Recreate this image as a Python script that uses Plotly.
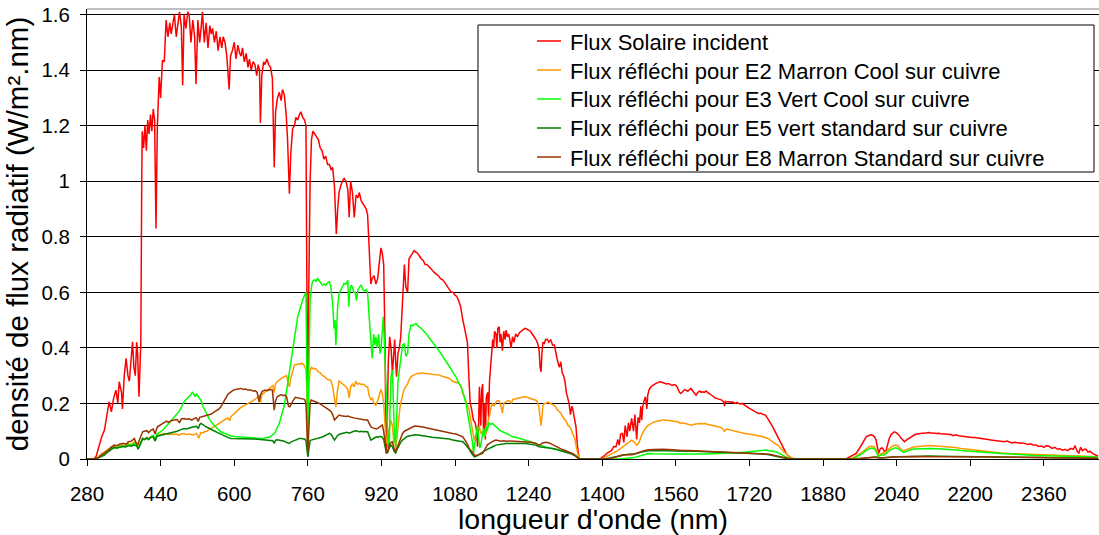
import plotly.graph_objects as go

# ---------------- data ----------------
red_wl = [280,295,300,306,312,318,322,328,333,338,343,347,350,355,357,361,365,369,372,376,379,382,385,388,390,393,395,397,399,
400,403,406,409,412,415,418,421,424,427,430,433,437,440,444,448,452,456,460,463,466,470,474,478,481,485,488,491,495,499,502,506,510,514,517,521,525,528,531,535,539,543,547,550,553,557,561,565,569,573,576,580,584,589,592,596,600,604,608,612,615,618,622,626,630,633,637,641,645,649,652,655,657,660,664,667,671,675,679,683,687,690,694,698,702,705,709,713,716,720,723,727,731,734,738,742,745,749,753,756,758,760,762,765,768,771,775,779,783,787,791,795,799,803,807,811,814,818,822,825,828,831,835,839,843,847,850,853,857,861,865,869,872,876,880,884,887,890,893,895,897,900,904,908,912,915,919,922,925,928,930,932,935,938,941,944,947,949,951,953,956,959,962,966,970,973,977,980,984,988,991,995,999,1003,1007,1011,1015,1019,1024,1028,1032,1036,1040,1044,1048,1053,1058,1063,1068,1072,1076,1080,1084,1088,1092,1096,1100,1104,1107,1110,1113,1116,1120,1124,1127,1129,1131,1133,1136,1138,1140,1142,1144,1146,1148,1151,1153,1155,1158,1160,1162,1164,1166,1169,1171,1173,1176,1178,1180,1183,1186,1189,1191,1194,1197,1200,1202,1205,1208,1212,1216,1220,1224,1228,1232,1236,1240,1244,1248,1252,1256,1260,1263,1265,1267,1269,1271,1274,1277,1281,1284,1288,1292,1296,1299,1302,1305,1307,1310,1313,1316,1319,1322,1325,1328,1331,1334,1336,1339,1343,1346,1350,
1395,1400,1405,1410,1415,1420,1425,1430,1434,1437,1440,1444,1447,1450,1454,1457,1460,1464,1468,1471,1475,1478,1481,1484,1486,1488,1491,1494,1497,1499,1502,1506,1510,1514,1517,1521,1525,1528,1532,1536,1540,1544,1548,1552,1556,1560,1564,1568,1571,1575,1579,1582,1586,1590,1593,1597,1600,1604,1608,1612,1615,1618,1622,1626,1629,1633,1637,1641,1645,1648,1652,1656,1660,1664,1666,1668,1672,1676,1680,1684,1688,1692,1696,1700,1704,1708,1712,1716,1720,1725,1730,1735,1740,1745,1750,1755,1760,1764,1767,1771,1774,1778,1782,1786,1789,1793,1796,1800,1805,1810,1815,
1930,1937,1945,1952,1958,1963,1966,1970,1974,1977,1981,1985,1988,1992,1995,1998,2001,2004,2007,2010,2013,2017,2020,2024,2028,2031,2035,2039,2043,2046,2050,2054,2057,2061,2065,2068,2072,2076,2080,2085,2090,2095,2100,2105,2111,2116,2121,2126,2131,2136,2140,2146,2152,2158,2163,2169,2175,2181,2187,2192,2198,2204,2210,2216,2222,2227,2233,2239,2245,2251,2256,2262,2268,2274,2280,2285,2291,2297,2303,2309,2314,2320,2326,2331,2337,2343,2349,2355,2360,2366,2372,2378,2384,2390,2395,2401,2406,2412,2418,2424,2428,2432,2436,2440,2444,2448,2452,2456,2460,2466,2472,2478]
red_val = [0,0,0.01,0.044,0.08,0.104,0.15,0.206,0.17,0.22,0.248,0.2,0.278,0.24,0.18,0.3,0.362,0.3,0.28,0.38,0.422,0.33,0.3,0.42,0.38,0.224,0.35,0.42,1.0,
1.18,1.12,1.2,1.11,1.22,1.17,1.24,1.18,1.26,1.22,0.83,1.2,1.375,1.3,1.435,1.43,1.58,1.52,1.57,1.53,1.56,1.6,1.52,1.58,1.61,1.56,1.345,1.6,1.55,1.61,1.6,1.5,1.58,1.52,1.35,1.58,1.5,1.55,1.61,1.5,1.57,1.48,1.56,1.53,1.55,1.5,1.54,1.47,1.52,1.48,1.52,1.5,1.45,1.33,1.45,1.47,1.5,1.44,1.49,1.46,1.45,1.48,1.43,1.46,1.41,1.44,1.4,1.43,1.42,1.38,1.42,1.40,1.21,1.38,1.43,1.42,1.44,1.42,1.41,1.37,1.05,1.25,1.3,1.32,1.29,1.33,1.31,1.24,1.15,0.955,1.1,1.19,1.2,1.23,1.22,1.24,1.25,1.23,1.22,1.2,0.6,0.04,0.6,1.0,1.15,1.18,1.17,1.16,1.15,1.12,1.11,1.08,1.09,1.06,1.06,1.04,1.05,0.98,0.81,0.9,0.96,0.98,1.0,1.01,1.0,0.97,0.87,1.0,0.96,0.87,0.95,0.94,0.96,0.93,0.92,0.91,0.9,0.88,0.75,0.65,0.63,0.65,0.66,0.63,0.65,0.7,0.76,0.74,0.7,0.4,0.03,0.05,0.35,0.44,0.4,0.31,0.38,0.43,0.35,0.296,0.38,0.4,0.44,0.55,0.7,0.62,0.6,0.72,0.73,0.74,0.75,0.745,0.74,0.73,0.72,0.715,0.70,0.70,0.69,0.685,0.675,0.67,0.665,0.66,0.65,0.645,0.635,0.62,0.61,0.60,0.6,0.59,0.585,0.57,0.55,0.51,0.48,0.45,0.42,0.3,0.2,0.18,0.14,0.13,0.1,0.044,0.1,0.26,0.12,0.25,0.27,0.1,0.2,0.07,0.22,0.24,0.15,0.28,0.34,0.38,0.43,0.4,0.46,0.45,0.4,0.47,0.476,0.42,0.45,0.39,0.46,0.43,0.464,0.44,0.45,0.42,0.40,0.44,0.42,0.45,0.44,0.455,0.46,0.465,0.47,0.468,0.465,0.46,0.45,0.44,0.43,0.415,0.39,0.33,0.314,0.38,0.42,0.416,0.43,0.43,0.42,0.43,0.41,0.41,0.38,0.36,0.34,0.33,0.35,0.31,0.3,0.28,0.24,0.22,0.2,0.16,0.19,0.18,0.15,0.116,0.05,0.0,
0,0.005,0.012,0.02,0.026,0.03,0.045,0.044,0.07,0.05,0.09,0.092,0.06,0.12,0.08,0.13,0.1,0.146,0.1,0.16,0.07,0.15,0.13,0.19,0.14,0.188,0.21,0.224,0.18,0.23,0.25,0.26,0.265,0.27,0.272,0.275,0.278,0.277,0.275,0.274,0.27,0.272,0.268,0.265,0.268,0.266,0.255,0.24,0.236,0.245,0.25,0.248,0.244,0.25,0.254,0.245,0.238,0.23,0.24,0.245,0.24,0.242,0.24,0.245,0.24,0.236,0.23,0.226,0.22,0.218,0.215,0.214,0.212,0.206,0.19,0.208,0.205,0.207,0.204,0.206,0.2,0.203,0.2,0.198,0.2,0.195,0.19,0.186,0.182,0.178,0.172,0.168,0.164,0.165,0.16,0.158,0.145,0.135,0.128,0.115,0.105,0.092,0.08,0.065,0.056,0.04,0.03,0.02,0.01,0.004,0,
0,0.006,0.012,0.02,0.035,0.05,0.056,0.07,0.08,0.083,0.086,0.087,0.085,0.08,0.07,0.04,0.02,0.035,0.04,0.038,0.028,0.03,0.05,0.074,0.088,0.094,0.098,0.095,0.09,0.085,0.075,0.068,0.062,0.068,0.072,0.074,0.08,0.085,0.088,0.09,0.092,0.093,0.093,0.094,0.095,0.093,0.094,0.092,0.093,0.091,0.09,0.091,0.089,0.088,0.084,0.087,0.084,0.082,0.081,0.08,0.078,0.077,0.077,0.075,0.074,0.074,0.07,0.07,0.068,0.067,0.066,0.063,0.064,0.062,0.065,0.062,0.058,0.06,0.058,0.057,0.058,0.054,0.052,0.055,0.05,0.05,0.045,0.047,0.042,0.048,0.045,0.038,0.042,0.035,0.037,0.032,0.035,0.03,0.038,0.035,0.048,0.03,0.02,0.042,0.03,0.035,0.035,0.025,0.028,0.02,0.015,0.01]

orange_wl = [280,298,305,312,318,325,332,339,345,352,358,364,370,376,383,388,392,396,401,405,410,414,419,424,428,432,437,442,448,453,458,463,468,474,479,485,491,496,502,508,513,518,523,527,531,535,540,545,550,555,560,565,570,575,580,586,590,593,598,603,607,612,617,622,627,631,636,641,646,651,655,657,660,665,669,673,677,681,684,687,690,694,698,702,706,710,714,718,720,723,727,731,735,740,745,749,753,756,758,760,762,765,768,772,777,782,787,792,796,800,805,810,814,818,821,824,828,832,836,840,843,847,850,853,857,861,864,868,872,876,880,884,887,890,893,897,900,904,908,912,915,919,922,925,928,931,933,936,940,944,947,949,951,954,957,960,962,966,969,973,977,980,984,988,993,998,1002,1007,1012,1017,1024,1030,1035,1040,1046,1052,1058,1063,1068,1075,1082,1089,1094,1097,1101,1105,1109,1111,1114,1118,1122,1126,1129,1133,1137,1140,1144,1147,1150,1153,1156,1159,1162,1165,1169,1172,1176,1180,1183,1186,1190,1194,1198,1202,1206,1210,1214,1218,1222,1226,1230,1234,1238,1242,1246,1250,1254,1258,1262,1265,1267,1269,1271,1274,1278,1282,1286,1290,1294,1298,1302,1306,1310,1314,1318,1322,1326,1330,1334,1338,1341,1344,1347,1350,
1400,1408,1415,1422,1430,1437,1444,1450,1457,1464,1470,1475,1479,1484,1488,1492,1496,1501,1506,1511,1515,1520,1526,1532,1537,1543,1549,1555,1560,1565,1570,1575,1580,1586,1590,1594,1600,1606,1612,1618,1623,1630,1637,1644,1652,1660,1666,1670,1675,1680,1688,1695,1703,1710,1718,1726,1733,1739,1746,1753,1760,1767,1773,1778,1782,1787,1792,1796,1800,1806,1812,1818,
1940,1945,1952,1960,1966,1972,1977,1980,1985,1991,1995,1998,2001,2006,2010,2013,2018,2022,2028,2033,2039,2044,2048,2053,2058,2064,2070,2076,2082,2090,2100,2111,2120,2130,2142,2155,2167,2180,2190,2198,2210,2222,2235,2242,2255,2268,2285,2300,2315,2329,2350,2370,2390,2410,2430,2455,2478]
orange_val = [0,0,0.008,0.02,0.025,0.035,0.04,0.044,0.042,0.048,0.05,0.047,0.055,0.052,0.062,0.058,0.045,0.06,0.074,0.072,0.078,0.074,0.08,0.082,0.065,0.085,0.087,0.09,0.092,0.09,0.088,0.09,0.088,0.09,0.086,0.09,0.092,0.088,0.09,0.087,0.088,0.092,0.075,0.095,0.093,0.098,0.1,0.105,0.11,0.115,0.122,0.128,0.133,0.138,0.142,0.148,0.138,0.152,0.16,0.168,0.176,0.182,0.188,0.192,0.198,0.2,0.206,0.21,0.216,0.224,0.228,0.2,0.232,0.238,0.244,0.248,0.254,0.26,0.264,0.24,0.272,0.278,0.285,0.29,0.294,0.296,0.3,0.27,0.26,0.29,0.31,0.338,0.34,0.342,0.344,0.344,0.335,0.32,0.25,0.116,0.25,0.32,0.33,0.325,0.326,0.315,0.31,0.30,0.298,0.29,0.285,0.284,0.26,0.21,0.188,0.24,0.28,0.275,0.27,0.265,0.26,0.25,0.22,0.26,0.27,0.26,0.28,0.27,0.272,0.268,0.27,0.265,0.26,0.26,0.23,0.212,0.22,0.2,0.194,0.21,0.23,0.25,0.236,0.2,0.12,0.06,0.056,0.09,0.14,0.12,0.06,0.1,0.035,0.08,0.14,0.18,0.2,0.23,0.25,0.26,0.27,0.285,0.296,0.3,0.305,0.308,0.308,0.31,0.309,0.308,0.308,0.306,0.305,0.303,0.302,0.298,0.295,0.292,0.29,0.28,0.276,0.272,0.258,0.236,0.22,0.2,0.18,0.176,0.14,0.1,0.068,0.09,0.11,0.116,0.09,0.1,0.08,0.093,0.12,0.15,0.17,0.19,0.2,0.19,0.205,0.21,0.21,0.19,0.165,0.2,0.205,0.21,0.21,0.2,0.215,0.215,0.218,0.22,0.222,0.223,0.224,0.224,0.222,0.22,0.218,0.214,0.212,0.21,0.19,0.14,0.12,0.15,0.19,0.2,0.2,0.205,0.2,0.198,0.195,0.19,0.178,0.172,0.165,0.152,0.145,0.135,0.12,0.115,0.1,0.082,0.07,0.04,0.015,0,
0,0.008,0.015,0.02,0.026,0.035,0.044,0.05,0.06,0.068,0.06,0.05,0.056,0.08,0.095,0.105,0.115,0.122,0.128,0.132,0.134,0.136,0.138,0.14,0.14,0.138,0.137,0.136,0.135,0.134,0.128,0.13,0.128,0.126,0.124,0.122,0.125,0.127,0.128,0.127,0.128,0.124,0.122,0.12,0.116,0.112,0.1,0.108,0.106,0.104,0.1,0.096,0.094,0.092,0.09,0.088,0.087,0.086,0.082,0.078,0.074,0.066,0.058,0.053,0.05,0.04,0.03,0.024,0.02,0.01,0.004,0,
0,0.004,0.01,0.018,0.026,0.035,0.042,0.044,0.046,0.044,0.035,0.02,0.012,0.018,0.022,0.02,0.025,0.035,0.044,0.048,0.05,0.046,0.038,0.03,0.032,0.036,0.04,0.042,0.044,0.046,0.048,0.049,0.048,0.047,0.046,0.044,0.041,0.038,0.036,0.035,0.033,0.03,0.028,0.026,0.024,0.022,0.02,0.019,0.018,0.018,0.016,0.015,0.013,0.013,0.011,0.01,0.008]

lime_wl = [280,298,305,312,318,325,332,339,346,352,358,364,370,376,383,388,392,396,401,406,410,414,419,424,428,432,437,442,448,453,458,463,468,472,477,482,486,491,496,502,506,509,512,515,518,521,524,528,532,535,539,543,547,553,558,563,568,571,576,582,587,593,600,607,614,622,630,637,644,651,658,665,672,678,682,686,689,692,695,698,702,706,709,713,717,720,724,727,731,734,738,742,745,749,753,756,758,760,762,765,768,770,774,778,781,785,788,792,796,799,803,807,810,814,817,819,821,823,825,828,832,835,839,843,847,849,851,854,857,860,863,866,869,872,876,880,884,887,890,893,895,897,900,903,906,908,911,914,917,919,921,924,927,930,933,935,937,939,941,944,946,948,951,953,956,959,962,966,970,973,977,980,984,988,992,995,999,1003,1008,1012,1017,1022,1028,1033,1039,1045,1050,1055,1060,1066,1071,1076,1082,1086,1089,1093,1097,1100,1104,1108,1111,1115,1118,1120,1123,1126,1129,1131,1134,1136,1139,1142,1145,1147,1150,1154,1158,1162,1166,1170,1174,1176,1182,1188,1194,1200,1205,1212,1220,1227,1234,1242,1250,1256,1263,1270,1278,1285,1292,1300,1307,1314,1321,1328,1336,1343,1347,1350,
1440,1455,1470,1480,1488,1495,1501,1510,1525,1540,1553,1570,1590,1610,1626,1645,1665,1685,1698,1710,1720,1730,1740,1748,1756,1762,1770,1778,1785,1790,1796,1802,1810,1816,
1945,1952,1960,1966,1972,1977,1982,1988,1992,1996,2000,2004,2008,2012,2018,2024,2030,2036,2041,2046,2050,2055,2060,2066,2073,2080,2090,2100,2112,2125,2140,2155,2170,2185,2200,2215,2230,2245,2260,2275,2290,2305,2320,2340,2360,2380,2400,2420,2440,2460,2478]
lime_val = [0,0,0.006,0.014,0.02,0.03,0.036,0.04,0.04,0.045,0.047,0.046,0.052,0.05,0.056,0.052,0.04,0.058,0.07,0.07,0.075,0.07,0.08,0.085,0.07,0.09,0.095,0.1,0.11,0.12,0.13,0.14,0.148,0.155,0.164,0.175,0.19,0.206,0.215,0.224,0.232,0.242,0.235,0.225,0.235,0.228,0.224,0.21,0.19,0.18,0.17,0.155,0.14,0.128,0.118,0.11,0.102,0.098,0.094,0.09,0.086,0.083,0.081,0.08,0.078,0.077,0.076,0.075,0.075,0.074,0.074,0.075,0.077,0.08,0.085,0.09,0.095,0.108,0.12,0.128,0.152,0.18,0.194,0.236,0.28,0.31,0.35,0.38,0.42,0.46,0.512,0.535,0.555,0.572,0.59,0.60,0.3,0.008,0.3,0.57,0.62,0.638,0.645,0.64,0.65,0.64,0.635,0.626,0.63,0.625,0.635,0.638,0.62,0.56,0.47,0.5,0.41,0.5,0.55,0.596,0.61,0.62,0.632,0.63,0.643,0.548,0.6,0.625,0.62,0.6,0.6,0.57,0.61,0.618,0.626,0.61,0.605,0.61,0.60,0.52,0.476,0.4,0.362,0.45,0.41,0.44,0.4,0.45,0.38,0.392,0.45,0.512,0.4,0.236,0.12,0.06,0.044,0.2,0.3,0.32,0.2,0.1,0.044,0.15,0.28,0.32,0.36,0.41,0.416,0.37,0.38,0.45,0.482,0.48,0.485,0.488,0.48,0.475,0.468,0.46,0.452,0.44,0.428,0.416,0.404,0.39,0.378,0.366,0.356,0.34,0.325,0.31,0.296,0.28,0.27,0.26,0.24,0.22,0.2,0.16,0.13,0.104,0.06,0.02,0.06,0.09,0.12,0.08,0.04,0.05,0.09,0.11,0.08,0.12,0.1,0.13,0.125,0.128,0.12,0.115,0.11,0.104,0.1,0.095,0.09,0.085,0.08,0.078,0.074,0.072,0.068,0.064,0.06,0.056,0.05,0.046,0.043,0.04,0.038,0.035,0.032,0.028,0.026,0.022,0.018,0.012,0.005,0,
0,0.002,0.005,0.01,0.014,0.018,0.02,0.019,0.018,0.018,0.018,0.018,0.017,0.018,0.018,0.019,0.02,0.021,0.022,0.024,0.026,0.028,0.03,0.032,0.032,0.03,0.028,0.026,0.02,0.015,0.01,0.005,0.002,0,
0,0.006,0.012,0.02,0.028,0.034,0.038,0.039,0.036,0.025,0.01,0.012,0.016,0.014,0.02,0.03,0.036,0.04,0.04,0.035,0.028,0.024,0.027,0.031,0.034,0.036,0.037,0.038,0.038,0.037,0.036,0.034,0.032,0.03,0.028,0.026,0.023,0.021,0.02,0.019,0.018,0.016,0.015,0.013,0.012,0.011,0.01,0.009,0.009,0.008,0.007]

dkgreen_wl = [280,298,305,312,318,325,332,339,345,352,358,364,370,376,383,388,391,396,401,405,410,414,419,424,428,432,437,442,448,453,458,463,470,476,481,486,491,496,502,508,513,518,522,525,528,532,535,539,543,548,553,558,563,568,571,576,582,587,593,600,607,614,622,630,637,644,651,658,665,672,680,684,687,690,694,698,704,709,713,717,720,724,728,733,737,741,745,749,753,756,758,760,762,765,767,772,778,785,790,795,800,804,807,811,814,818,821,825,830,835,840,845,850,855,860,864,868,872,876,880,884,887,890,893,897,901,905,909,913,917,921,925,928,931,934,937,941,944,947,951,954,958,962,966,970,975,980,984,988,993,999,1006,1013,1020,1024,1030,1037,1044,1052,1060,1068,1075,1082,1089,1094,1097,1101,1105,1108,1111,1114,1118,1122,1126,1130,1134,1140,1147,1153,1158,1164,1169,1175,1180,1186,1191,1200,1210,1220,1234,1245,1255,1263,1270,1278,1285,1292,1300,1310,1320,1328,1335,1342,1347,1350,
1405,1420,1435,1450,1465,1475,1485,1492,1500,1515,1530,1545,1560,1580,1600,1620,1640,1660,1680,1700,1720,1740,1760,1775,1785,1795,1805,1812,
1950,1965,1980,1995,2005,2020,2040,2060,2080,2095,2110,2130,2160,2200,2250,2300,2350,2400,2440,2478]
dkgreen_val = [0,0,0.004,0.01,0.014,0.025,0.035,0.042,0.04,0.044,0.045,0.043,0.048,0.046,0.05,0.048,0.035,0.052,0.074,0.07,0.076,0.07,0.078,0.08,0.065,0.082,0.084,0.086,0.088,0.09,0.092,0.094,0.098,0.1,0.104,0.106,0.11,0.108,0.112,0.114,0.116,0.118,0.11,0.124,0.128,0.122,0.12,0.116,0.112,0.108,0.104,0.1,0.096,0.092,0.088,0.084,0.08,0.077,0.074,0.074,0.073,0.074,0.074,0.073,0.072,0.072,0.071,0.07,0.07,0.069,0.068,0.066,0.056,0.068,0.069,0.068,0.066,0.064,0.06,0.058,0.056,0.062,0.066,0.068,0.07,0.074,0.074,0.073,0.072,0.066,0.03,0.008,0.03,0.066,0.068,0.07,0.072,0.074,0.078,0.082,0.086,0.09,0.092,0.088,0.08,0.068,0.075,0.085,0.09,0.092,0.094,0.096,0.093,0.098,0.1,0.102,0.1,0.098,0.1,0.098,0.099,0.098,0.098,0.085,0.068,0.072,0.075,0.08,0.078,0.082,0.08,0.07,0.045,0.02,0.025,0.04,0.05,0.044,0.03,0.02,0.035,0.05,0.06,0.068,0.075,0.08,0.083,0.085,0.086,0.087,0.086,0.085,0.083,0.081,0.08,0.078,0.077,0.076,0.075,0.074,0.072,0.068,0.067,0.065,0.063,0.062,0.056,0.048,0.04,0.035,0.025,0.015,0.008,0.01,0.015,0.02,0.025,0.032,0.038,0.042,0.046,0.05,0.052,0.054,0.055,0.056,0.056,0.057,0.056,0.056,0.053,0.05,0.044,0.043,0.042,0.04,0.038,0.035,0.03,0.026,0.023,0.017,0.01,0.004,0,
0,0.004,0.01,0.015,0.018,0.02,0.025,0.028,0.03,0.031,0.03,0.029,0.029,0.028,0.028,0.027,0.026,0.025,0.024,0.023,0.021,0.019,0.016,0.012,0.008,0.004,0.001,0,
0,0.003,0.006,0.007,0.004,0.006,0.008,0.008,0.01,0.012,0.011,0.01,0.009,0.008,0.007,0.006,0.005,0.004,0.004,0.003]

brown_wl = [280,298,305,312,318,325,332,339,345,352,358,361,365,370,376,380,383,386,390,393,397,401,405,410,414,419,424,428,433,437,442,448,453,458,463,470,476,481,485,491,496,502,508,513,518,522,525,530,535,540,545,550,557,562,567,571,575,579,582,586,590,593,598,603,608,615,620,625,630,636,641,646,650,654,657,661,667,672,677,683,687,690,694,698,702,706,710,714,718,721,724,728,733,738,743,749,753,756,758,760,762,765,767,772,778,785,790,795,800,804,807,811,814,818,821,825,828,833,838,843,847,850,855,860,865,870,875,880,885,890,893,897,901,905,909,912,916,919,922,925,928,931,934,937,941,944,947,951,954,958,962,966,970,975,981,986,991,995,1001,1007,1013,1019,1024,1031,1038,1046,1053,1060,1068,1075,1082,1089,1094,1097,1101,1105,1108,1111,1115,1119,1122,1126,1130,1135,1140,1145,1150,1155,1160,1165,1169,1175,1180,1186,1191,1200,1210,1220,1227,1235,1245,1256,1262,1266,1270,1278,1285,1292,1299,1306,1314,1321,1328,1335,1342,1347,1350,
1415,1430,1444,1458,1465,1473,1480,1485,1491,1500,1510,1517,1530,1545,1560,1575,1590,1604,1620,1640,1662,1680,1700,1720,1740,1764,1775,1785,1793,1802,1810,
1950,1970,1990,2005,2020,2040,2070,2100,2150,2200,2250,2300,2350,2400,2478]
brown_val = [0,0,0.006,0.014,0.02,0.03,0.042,0.05,0.048,0.054,0.056,0.056,0.052,0.062,0.064,0.07,0.074,0.06,0.05,0.065,0.08,0.098,0.1,0.102,0.095,0.104,0.108,0.09,0.116,0.12,0.126,0.134,0.136,0.132,0.138,0.14,0.142,0.13,0.144,0.146,0.143,0.145,0.14,0.146,0.148,0.135,0.15,0.152,0.155,0.158,0.16,0.162,0.17,0.175,0.18,0.188,0.2,0.21,0.224,0.232,0.238,0.242,0.248,0.25,0.252,0.254,0.25,0.252,0.248,0.248,0.245,0.246,0.24,0.206,0.23,0.244,0.248,0.246,0.25,0.248,0.176,0.21,0.225,0.23,0.232,0.228,0.23,0.224,0.19,0.188,0.2,0.21,0.222,0.22,0.219,0.218,0.215,0.2,0.1,0.02,0.1,0.2,0.212,0.21,0.205,0.2,0.195,0.19,0.185,0.18,0.176,0.17,0.16,0.14,0.145,0.155,0.158,0.156,0.155,0.153,0.155,0.152,0.15,0.148,0.146,0.145,0.143,0.142,0.14,0.14,0.128,0.116,0.112,0.11,0.108,0.11,0.115,0.12,0.122,0.1,0.06,0.02,0.03,0.05,0.06,0.062,0.04,0.025,0.04,0.06,0.08,0.092,0.1,0.105,0.11,0.115,0.118,0.119,0.118,0.116,0.114,0.112,0.11,0.108,0.106,0.102,0.1,0.098,0.095,0.092,0.09,0.086,0.084,0.08,0.07,0.06,0.05,0.038,0.028,0.02,0.015,0.012,0.014,0.018,0.02,0.035,0.05,0.056,0.062,0.066,0.068,0.066,0.064,0.066,0.064,0.065,0.064,0.064,0.064,0.062,0.06,0.056,0.05,0.052,0.058,0.06,0.058,0.052,0.045,0.04,0.034,0.03,0.026,0.02,0.012,0.004,0,
0,0.006,0.014,0.016,0.015,0.02,0.024,0.028,0.03,0.033,0.034,0.035,0.035,0.034,0.032,0.031,0.031,0.03,0.029,0.028,0.026,0.025,0.024,0.022,0.02,0.017,0.013,0.009,0.006,0.002,0,
0,0.004,0.006,0.004,0.006,0.008,0.009,0.009,0.008,0.008,0.007,0.006,0.005,0.004,0.003]

series_names = [
    "Flux Solaire incident",
    "Flux réfléchi pour E2 Marron Cool sur cuivre",
    "Flux réfléchi pour E3 Vert Cool sur cuivre",
    "Flux réfléchi pour E5 vert standard sur cuivre",
    "Flux réfléchi pour E8 Marron Standard sur cuivre",
]
x_ticks = [280, 440, 600, 760, 920, 1080, 1240, 1400, 1560, 1720, 1880, 2040, 2200, 2360]
y_ticks = [0, 0.2, 0.4, 0.6, 0.8, 1.0, 1.2, 1.4, 1.6]

# ---------------- figure ----------------
colors = ["#FF0000", "#FF9900", "#00FF00", "#008000", "#993300"]
data = [(red_wl, red_val), (orange_wl, orange_val), (lime_wl, lime_val),
        (dkgreen_wl, dkgreen_val), (brown_wl, brown_val)]

FONT = "Liberation Sans, Arial, sans-serif"
W, H = 1099, 535
ML, MR, MT, MB = 87, 0, 9, 76
PW, PH = W - ML - MR, H - MT - MB

def px_x(px):
    return (px - ML) / PW

def px_y(py):
    return 1 - (py - MT) / PH

fig = go.Figure()
for (xs, ys), name, col in zip(data, series_names, colors):
    fig.add_trace(go.Scatter(x=xs, y=ys, mode="lines", name=name,
                             line=dict(color=col, width=1.5), showlegend=False))

fig.update_layout(
    width=W, height=H,
    margin=dict(l=ML, r=MR, t=MT, b=MB),
    paper_bgcolor="white", plot_bgcolor="white",
    font=dict(family=FONT, color="black", size=20),
    showlegend=False,
    xaxis=dict(range=[280, 2480], tickmode="array", tickvals=x_ticks,
               ticktext=[str(v) for v in x_ticks], automargin=False,
               showgrid=False, zeroline=False, showline=True,
               linecolor="black", linewidth=1, ticks="outside",
               ticklen=6, tickcolor="black", ticklabelstandoff=10,
               tickfont=dict(family=FONT, size=20.5),
               title=dict(text="longueur d'onde (nm)",
                          font=dict(family=FONT, size=28.5), standoff=14)),
    yaxis=dict(range=[0, 1.62], tickmode="array", tickvals=y_ticks,
               ticktext=["0", "0.2", "0.4", "0.6", "0.8", "1", "1.2", "1.4", "1.6"],
               showgrid=True, gridcolor="black", gridwidth=1, automargin=False,
               zeroline=False, showline=True, linecolor="black", linewidth=1,
               ticks="outside", ticklen=6, tickcolor="black", ticklabelstandoff=6,
               tickfont=dict(family=FONT, size=20.5),
               title=dict(text="densité de flux radiatif (W/m².nm)",
                          font=dict(family=FONT, size=29.5), standoff=4)),
)
# top border of plot area
fig.add_shape(type="line", xref="paper", yref="paper", x0=0, x1=1, y0=1, y1=1,
              line=dict(color="#808080", width=1))
# legend frame
fig.add_shape(type="rect", xref="paper", yref="paper",
              x0=px_x(478), x1=px_x(1094), y0=px_y(172), y1=px_y(25),
              line=dict(color="black", width=1), fillcolor="white", layer="above")
# legend entries
row_y = [41, 70, 99, 128, 157]
for name, col, ry in zip(series_names, colors, row_y):
    fig.add_shape(type="line", xref="paper", yref="paper", layer="above",
                  x0=px_x(537), x1=px_x(561), y0=px_y(ry), y1=px_y(ry),
                  line=dict(color=col, width=1.5))
    fig.add_annotation(xref="paper", yref="paper", x=px_x(568), y=px_y(ry + 1),
                       xanchor="left", yanchor="middle", showarrow=False,
                       text=name, font=dict(family=FONT, size=22, color="black"))

fig.write_html("out.html", config={"displayModeBar": False},
               post_script="document.body.style.margin='0px';")
